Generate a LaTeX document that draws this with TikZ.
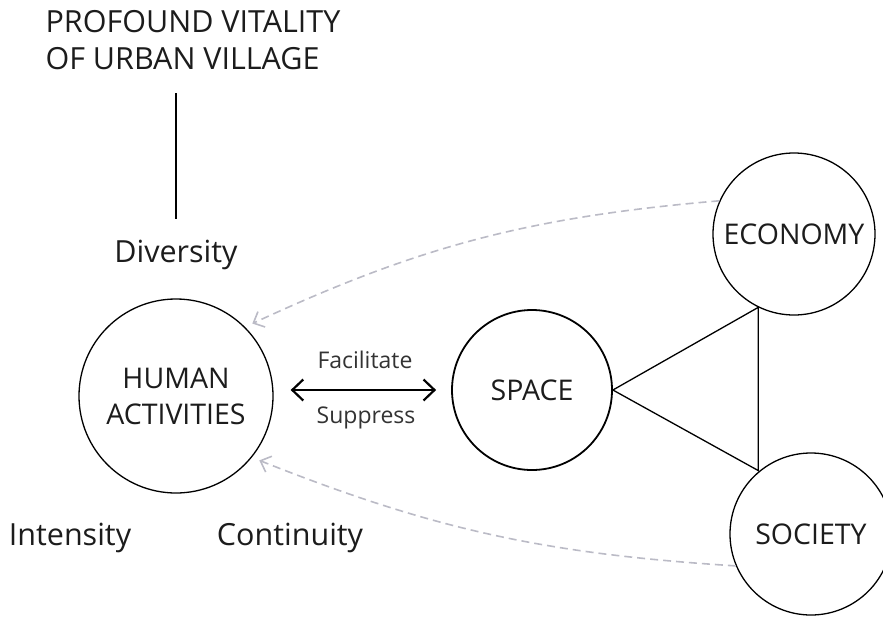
\documentclass[tikz,border=0pt]{standalone}
\usepackage{fontspec}
\setmainfont{Open Sans}
\usetikzlibrary{arrows.meta}
\definecolor{ink}{HTML}{1C1C1C}
\definecolor{haze}{HTML}{BBBBC6}

\begin{document}
\begin{tikzpicture}[x=1pt, y=1pt, line width=1.3pt,
    bubble/.style={draw, circle, inner sep=0pt, text=ink, align=center, font=\fontsize{28.5}{36}\selectfont},
    word/.style={text=ink, inner sep=0pt, font=\fontsize{30.5}{37}\selectfont},
    small/.style={text=ink!90, inner sep=0pt, anchor=base, font=\fontsize{23}{28}\selectfont},
    hint/.style={haze, dashed, line width=1.6pt, dash pattern=on 8pt off 5pt, -{Straight Barb[length=9pt, width=17pt]}}]
    \useasboundingbox (0, 0) rectangle (883, -616) ;
    % title and the three qualities
    \node[word, align=left] (goal) at (193, -40) {PROFOUND VITALITY\\OF URBAN VILLAGE} ;
    \node[word, anchor=base] (div) at (176, -262) {Diversity} ;
    \node[word, anchor=base] (inten) at (70, -545) {Intensity} ;
    \node[word, anchor=base] (cont) at (290, -545) {Continuity} ;
    \draw[line width=1.8pt, shorten <=23pt, shorten >=20pt] (div |- goal.south) -- (div.north) ;
    % circles
    \node[bubble, minimum size=194pt] (hum) at (176, -396) {HUMAN\\ACTIVITIES} ;
    \node[bubble, minimum size=160pt, line width=1.8pt] (spc) at (532, -390) {SPACE} ;
    \node[bubble, minimum size=162pt] (eco) at (794, -234) {ECONOMY} ;
    \node[bubble, minimum size=162pt] (soc) at (811, -534) {SOCIETY} ;
    % facilitate / suppress
    \draw[line width=2.2pt, {Straight Barb[length=11pt, width=21pt]}-{Straight Barb[length=11pt, width=21pt]}, shorten <=17pt, shorten >=15pt] (hum.east |- spc.west) -- (spc.west) ;
    \node[small] (fac) at (365, -368) {Facilitate} ;
    \node[small] (sup) at (366, -423) {Suppress} ;
    % triangle
    \coordinate (top) at (eco.244) ;
    \draw (spc.east) -- (top) -- (top |- soc.129) -- cycle ;
    % feedback
    \draw[hint, shorten >=8pt] (eco.156) to[bend right=10] (hum.45) ;
    \draw[hint, shorten >=8pt] (soc.203) to[bend left=9] (hum.-39) ;
\end{tikzpicture}
\end{document}
